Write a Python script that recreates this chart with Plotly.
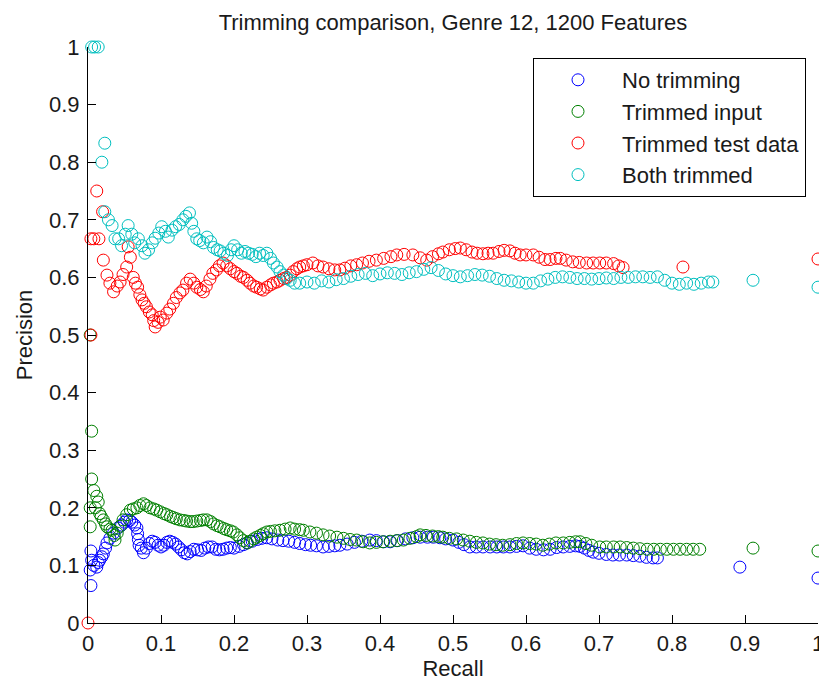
import plotly.graph_objects as go

# ---------------- data ----------------
title_text = "Trimming comparison, Genre 12, 1200 Features"
x_label = "Recall"
y_label = "Precision"
tick_vals = [0, 0.1, 0.2, 0.3, 0.4, 0.5, 0.6, 0.7, 0.8, 0.9, 1]
tick_text = ["0", "0.1", "0.2", "0.3", "0.4", "0.5", "0.6", "0.7", "0.8", "0.9", "1"]

series_names = ["No trimming", "Trimmed input", "Trimmed test data", "Both trimmed"]

no_trim_recall = [0.004, 0.003, 0.005, 0.004, 0.008, 0.012, 0.014, 0.016, 0.019, 0.021, 0.024, 0.026,
                  0.030, 0.035, 0.041, 0.046, 0.050, 0.053, 0.057, 0.060, 0.064, 0.067, 0.068, 0.069,
                  0.070, 0.073, 0.076, 0.080, 0.084, 0.088, 0.092, 0.096, 0.100, 0.104, 0.108, 0.112,
                  0.116, 0.120, 0.124, 0.128, 0.132, 0.136, 0.140, 0.145, 0.150, 0.155, 0.160, 0.165,
                  0.170, 0.175, 0.180, 0.185, 0.190, 0.195, 0.200, 0.207, 0.213, 0.218, 0.225, 0.232,
                  0.238, 0.245, 0.252, 0.260, 0.267, 0.275, 0.283, 0.290, 0.298, 0.305, 0.313, 0.322,
                  0.330, 0.338, 0.345, 0.355, 0.365, 0.375, 0.386, 0.395, 0.405, 0.414, 0.424, 0.435,
                  0.445, 0.455, 0.465, 0.473, 0.482, 0.490, 0.500, 0.508, 0.515, 0.523, 0.532, 0.541,
                  0.551, 0.560, 0.569, 0.578, 0.587, 0.596, 0.605, 0.614, 0.624, 0.633, 0.642, 0.651,
                  0.660, 0.668, 0.674, 0.680, 0.686, 0.692, 0.700, 0.710, 0.719, 0.728, 0.738, 0.747,
                  0.756, 0.765, 0.774, 0.780, 0.893, 1.000]
no_trim_precision = [0.065, 0.092, 0.109, 0.125, 0.100, 0.097, 0.105, 0.109, 0.115, 0.120, 0.130, 0.139,
                     0.147, 0.156, 0.165, 0.170, 0.175, 0.179, 0.178, 0.175, 0.170, 0.165, 0.155, 0.145,
                     0.135, 0.130, 0.122, 0.130, 0.138, 0.142, 0.140, 0.135, 0.132, 0.135, 0.140, 0.142,
                     0.140, 0.137, 0.132, 0.127, 0.122, 0.120, 0.124, 0.128, 0.127, 0.126, 0.130, 0.132,
                     0.132, 0.128, 0.127, 0.128, 0.130, 0.131, 0.130, 0.133, 0.136, 0.139, 0.142, 0.145,
                     0.147, 0.148, 0.146, 0.144, 0.143, 0.142, 0.140, 0.138, 0.136, 0.135, 0.134, 0.132,
                     0.133, 0.134, 0.135, 0.137, 0.140, 0.142, 0.144, 0.143, 0.141, 0.141, 0.143, 0.146,
                     0.148, 0.149, 0.149, 0.149, 0.148, 0.146, 0.144, 0.140, 0.136, 0.132, 0.132, 0.132,
                     0.132, 0.132, 0.132, 0.132, 0.133, 0.134, 0.130, 0.128, 0.127, 0.128, 0.131, 0.132,
                     0.133, 0.134, 0.133, 0.130, 0.126, 0.123, 0.121, 0.119, 0.118, 0.118, 0.118, 0.117,
                     0.116, 0.114, 0.113, 0.113, 0.097, 0.078]

trim_input_recall = [0.003, 0.005, 0.005, 0.003, 0.003, 0.008, 0.010, 0.012, 0.014, 0.016, 0.018, 0.021,
                     0.024, 0.026, 0.030, 0.033, 0.036, 0.037, 0.040, 0.044, 0.048, 0.053, 0.058, 0.062,
                     0.067, 0.071, 0.076, 0.080, 0.085, 0.090, 0.094, 0.099, 0.104, 0.108, 0.113, 0.117,
                     0.121, 0.126, 0.131, 0.135, 0.140, 0.144, 0.149, 0.154, 0.158, 0.163, 0.168, 0.172,
                     0.177, 0.181, 0.186, 0.190, 0.195, 0.199, 0.204, 0.208, 0.213, 0.218, 0.222, 0.227,
                     0.231, 0.236, 0.240, 0.245, 0.250, 0.256, 0.263, 0.270, 0.277, 0.283, 0.290, 0.295,
                     0.304, 0.313, 0.322, 0.331, 0.341, 0.350, 0.359, 0.368, 0.377, 0.386, 0.395, 0.404,
                     0.414, 0.423, 0.432, 0.441, 0.450, 0.455, 0.463, 0.472, 0.480, 0.486, 0.495, 0.505,
                     0.514, 0.523, 0.532, 0.541, 0.550, 0.559, 0.568, 0.578, 0.587, 0.596, 0.605, 0.614,
                     0.623, 0.632, 0.641, 0.651, 0.660, 0.668, 0.674, 0.682, 0.690, 0.701, 0.710, 0.720,
                     0.729, 0.738, 0.747, 0.756, 0.766, 0.775, 0.784, 0.793, 0.802, 0.811, 0.820, 0.829,
                     0.838, 0.911, 1.000]
trim_input_precision = [0.500, 0.333, 0.250, 0.200, 0.167, 0.230, 0.200, 0.220, 0.210, 0.190, 0.185, 0.179,
                        0.172, 0.167, 0.163, 0.161, 0.152, 0.144, 0.156, 0.168, 0.179, 0.188, 0.196, 0.198,
                        0.200, 0.204, 0.207, 0.204, 0.200, 0.198, 0.196, 0.193, 0.190, 0.188, 0.185, 0.183,
                        0.181, 0.179, 0.178, 0.177, 0.176, 0.176, 0.177, 0.178, 0.179, 0.179, 0.176, 0.172,
                        0.169, 0.167, 0.164, 0.162, 0.160, 0.158, 0.153, 0.148, 0.143, 0.139, 0.142, 0.146,
                        0.149, 0.152, 0.155, 0.158, 0.159, 0.160, 0.161, 0.163, 0.165, 0.163, 0.162, 0.161,
                        0.158, 0.156, 0.153, 0.151, 0.149, 0.147, 0.145, 0.144, 0.141, 0.139, 0.140, 0.141,
                        0.142, 0.143, 0.144, 0.147, 0.150, 0.153, 0.152, 0.151, 0.150, 0.149, 0.147, 0.146,
                        0.144, 0.142, 0.140, 0.139, 0.137, 0.136, 0.135, 0.136, 0.138, 0.139, 0.138, 0.137,
                        0.135, 0.137, 0.139, 0.139, 0.140, 0.141, 0.141, 0.138, 0.135, 0.132, 0.132, 0.132,
                        0.132, 0.131, 0.130, 0.129, 0.128, 0.128, 0.128, 0.128, 0.128, 0.128, 0.128, 0.128,
                        0.128, 0.130, 0.125]

trim_test_recall = [0.000, 0.004, 0.004, 0.008, 0.012, 0.015, 0.020, 0.021, 0.026, 0.030, 0.035, 0.040,
                    0.044, 0.048, 0.053, 0.055, 0.058, 0.062, 0.065, 0.068, 0.071, 0.074, 0.077, 0.080,
                    0.084, 0.088, 0.090, 0.092, 0.096, 0.099, 0.103, 0.108, 0.112, 0.117, 0.121, 0.126,
                    0.130, 0.135, 0.140, 0.145, 0.149, 0.154, 0.158, 0.162, 0.167, 0.171, 0.176, 0.180,
                    0.185, 0.190, 0.195, 0.200, 0.204, 0.209, 0.213, 0.218, 0.222, 0.227, 0.231, 0.236,
                    0.240, 0.245, 0.250, 0.254, 0.259, 0.263, 0.268, 0.272, 0.277, 0.281, 0.286, 0.290,
                    0.295, 0.300, 0.308, 0.315, 0.322, 0.330, 0.338, 0.345, 0.352, 0.360, 0.368, 0.376,
                    0.385, 0.395, 0.405, 0.415, 0.423, 0.433, 0.445, 0.455, 0.464, 0.472, 0.480, 0.486,
                    0.495, 0.503, 0.510, 0.518, 0.526, 0.533, 0.541, 0.548, 0.555, 0.563, 0.570, 0.578,
                    0.585, 0.592, 0.600, 0.610, 0.618, 0.626, 0.633, 0.641, 0.647, 0.655, 0.664, 0.673,
                    0.683, 0.692, 0.701, 0.710, 0.720, 0.727, 0.733, 0.815, 1.000]
trim_test_precision = [0.000, 0.500, 0.667, 0.667, 0.750, 0.667, 0.714, 0.630, 0.604, 0.590, 0.575, 0.585,
                       0.592, 0.605, 0.618, 0.653, 0.635, 0.600, 0.590, 0.583, 0.570, 0.561, 0.555, 0.549,
                       0.540, 0.535, 0.525, 0.514, 0.522, 0.531, 0.526, 0.538, 0.545, 0.555, 0.565, 0.573,
                       0.578, 0.590, 0.597, 0.590, 0.583, 0.579, 0.575, 0.585, 0.597, 0.607, 0.613, 0.620,
                       0.625, 0.620, 0.615, 0.610, 0.607, 0.602, 0.600, 0.595, 0.590, 0.585, 0.583, 0.580,
                       0.578, 0.583, 0.587, 0.590, 0.592, 0.595, 0.598, 0.600, 0.604, 0.610, 0.615, 0.618,
                       0.620, 0.622, 0.625, 0.620, 0.618, 0.615, 0.613, 0.613, 0.616, 0.620, 0.622, 0.625,
                       0.628, 0.630, 0.633, 0.636, 0.639, 0.640, 0.639, 0.634, 0.630, 0.636, 0.641, 0.644,
                       0.648, 0.650, 0.651, 0.648, 0.644, 0.642, 0.641, 0.642, 0.642, 0.645, 0.647, 0.646,
                       0.642, 0.639, 0.639, 0.639, 0.635, 0.631, 0.631, 0.633, 0.633, 0.630, 0.627, 0.626,
                       0.625, 0.625, 0.625, 0.625, 0.624, 0.620, 0.617, 0.618, 0.632]

both_recall = [0.005, 0.009, 0.014, 0.019, 0.023, 0.023, 0.028, 0.033, 0.037, 0.042, 0.046, 0.051,
               0.055, 0.060, 0.064, 0.069, 0.074, 0.078, 0.083, 0.088, 0.092, 0.097, 0.101, 0.106,
               0.110, 0.115, 0.120, 0.125, 0.130, 0.134, 0.139, 0.142, 0.145, 0.149, 0.153, 0.158,
               0.163, 0.168, 0.172, 0.177, 0.181, 0.186, 0.191, 0.196, 0.200, 0.205, 0.210, 0.215,
               0.220, 0.225, 0.230, 0.235, 0.240, 0.245, 0.250, 0.254, 0.259, 0.263, 0.268, 0.272,
               0.277, 0.283, 0.290, 0.300, 0.310, 0.320, 0.330, 0.340, 0.350, 0.360, 0.370, 0.380,
               0.390, 0.400, 0.410, 0.420, 0.430, 0.440, 0.450, 0.460, 0.470, 0.480, 0.490, 0.500,
               0.510, 0.520, 0.530, 0.540, 0.550, 0.560, 0.570, 0.580, 0.590, 0.600, 0.610, 0.620,
               0.630, 0.640, 0.650, 0.660, 0.670, 0.680, 0.690, 0.700, 0.710, 0.720, 0.730, 0.740,
               0.750, 0.760, 0.770, 0.780, 0.790, 0.800, 0.810, 0.820, 0.830, 0.840, 0.850, 0.856,
               0.911, 1.000]
both_precision = [1.000, 1.000, 1.000, 0.800, 0.833, 0.714, 0.700, 0.690, 0.667, 0.667, 0.655, 0.675,
                  0.690, 0.675, 0.660, 0.667, 0.655, 0.642, 0.648, 0.660, 0.668, 0.677, 0.688, 0.680,
                  0.670, 0.682, 0.688, 0.692, 0.700, 0.706, 0.712, 0.694, 0.680, 0.667, 0.664, 0.660,
                  0.670, 0.662, 0.652, 0.648, 0.646, 0.642, 0.638, 0.648, 0.655, 0.648, 0.642, 0.645,
                  0.642, 0.640, 0.636, 0.642, 0.638, 0.642, 0.633, 0.625, 0.618, 0.610, 0.604, 0.598,
                  0.595, 0.590, 0.590, 0.592, 0.590, 0.594, 0.592, 0.596, 0.598, 0.602, 0.605, 0.607,
                  0.603, 0.606, 0.608, 0.607, 0.605, 0.608, 0.610, 0.614, 0.617, 0.612, 0.606, 0.603,
                  0.601, 0.603, 0.605, 0.604, 0.602, 0.598, 0.595, 0.594, 0.592, 0.590, 0.590, 0.594,
                  0.597, 0.600, 0.601, 0.600, 0.598, 0.598, 0.597, 0.598, 0.599, 0.598, 0.600, 0.600,
                  0.601, 0.601, 0.600, 0.601, 0.595, 0.590, 0.588, 0.590, 0.588, 0.590, 0.592, 0.592,
                  0.595, 0.583]

series_recall = [no_trim_recall, trim_input_recall, trim_test_recall, both_recall]
series_precision = [no_trim_precision, trim_input_precision, trim_test_precision, both_precision]
series_colors = ["#0000FF", "#008000", "#FF0000", "#00BFBF"]

# ---------------- figure ----------------
W, H = 819, 681
PL, PR, PT, PB = 88, 818, 47, 623          # plot-area edges in window pixels
FONT = "Liberation Sans, Arial, sans-serif"

fig = go.Figure()
for name, xs, ys, col in zip(series_names, series_recall, series_precision, series_colors):
    fig.add_trace(go.Scatter(
        x=xs, y=ys, mode="markers", name=name, cliponaxis=False,
        marker=dict(symbol="circle-open", size=12, color=col, line=dict(width=1, color=col)),
    ))

fig.update_layout(
    width=W, height=H,
    margin=dict(l=PL, r=W - PR, t=PT, b=H - PB, autoexpand=False),
    paper_bgcolor="white", plot_bgcolor="white",
    font=dict(family=FONT, size=22, color="#1a1a1a"),
    title=dict(text=title_text, x=(PL + PR) / 2 / W, xanchor="center",
               y=1 - 22 / H, yanchor="middle", font=dict(size=22)),
    showlegend=True,
    legend=dict(x=(533 - PL) / (PR - PL), y=(PB - 58) / (PB - PT), xanchor="left", yanchor="top",
                bgcolor="white", bordercolor="black", borderwidth=1,
                font=dict(size=22), itemwidth=78, tracegroupgap=0),
)
fig.update_xaxes(range=[0, 1], tickvals=tick_vals, ticktext=tick_text,
                 showline=True, linecolor="black", linewidth=1, mirror=False,
                 ticks="inside", ticklen=8, tickcolor="black", showgrid=False, zeroline=False,
                 ticklabelstandoff=1, ticklabeloverflow="allow", automargin=False,
                 title=dict(text=x_label, standoff=3, font=dict(size=22)))
fig.update_yaxes(range=[0, 1], tickvals=tick_vals, ticktext=tick_text,
                 showline=True, linecolor="black", linewidth=1, mirror=False,
                 ticks="inside", ticklen=8, tickcolor="black", showgrid=False, zeroline=False,
                 ticklabelstandoff=3, automargin=False,
                 title=dict(text=y_label, standoff=10, font=dict(size=22)))

fig.write_html("out.html", config={"displayModeBar": False},
               post_script="document.body.style.margin='0';document.body.style.overflow='hidden';")
